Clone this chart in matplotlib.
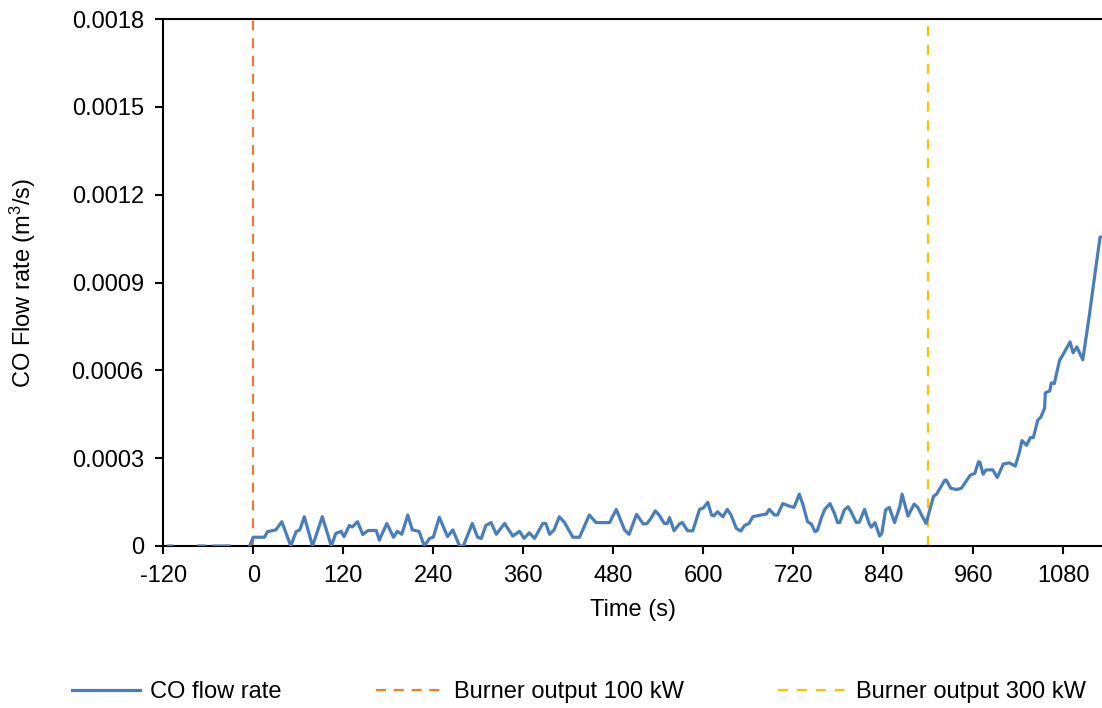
from matplotlib import pyplot as plt
from matplotlib.ticker import FuncFormatter
import numpy as np

plt.rcParams['font.family'] = ['Liberation Sans', 'DejaVu Sans']
plt.rcParams['axes.unicode_minus'] = False

# time (s) and CO flow rate (x 1e-5 m3/s), nan = gap in the record
time_s = [-113, -109, -100, -73, -65, -60, -53, -48, -46, -43, -32, -20,
          -5, 0, 15, 19, 30, 38, 50, 57, 62, 68, 79, 92, 104, 110, 117, 121,
          128, 132, 139, 146, 153, 164, 168, 178, 187, 192, 198, 206, 212,
          221, 228, 235, 240, 248, 259, 266, 275, 280, 292, 299, 304, 310,
          317, 324, 335, 346, 355, 361, 368, 375, 386, 390, 395, 401, 408,
          415, 426, 435, 448, 457, 475, 484, 495, 501, 511, 520, 525, 530,
          536, 541, 548, 552, 555, 561, 568, 572, 579, 586, 595, 600, 606,
          611, 614, 619, 626, 632, 637, 644, 650, 655, 661, 666, 677, 684,
          688, 695, 699, 706, 715, 721, 728, 733, 739, 744, 749, 752, 758,
          762, 769, 775, 779, 782, 788, 793, 797, 804, 808, 815, 821, 824,
          829, 835, 838, 843, 848, 855, 862, 865, 873, 881, 886, 891, 897,
          907, 911, 922, 924, 930, 938, 944, 956, 962, 967, 969, 973, 977,
          986, 992, 1000, 1008, 1016, 1021, 1025, 1031, 1036, 1040, 1046,
          1050, 1055, 1056, 1062, 1064, 1068, 1075, 1079, 1089, 1093, 1098,
          1106, 1115, 1121, 1129, 1132]
co_flow = [0, 0, np.nan, 0, 0, np.nan, 0, 0, np.nan, 0, 0, np.nan,
           0, 3.0, 3.0, 4.9, 5.5, 8.3, 0, 4.9, 5.5, 10.0, 0, 10.0, 0, 4.3,
           5.0, 3.2, 7.0, 6.5, 8.3, 3.9, 5.3, 5.3, 2.0, 7.7, 3.0, 5.0, 4.0,
           10.6, 5.5, 5.0, 0, 2.6, 3.0, 9.8, 3.2, 5.5, 0, 0, 7.7, 3.0, 2.6,
           7.0, 8.0, 4.0, 7.7, 3.4, 5.0, 2.6, 4.5, 2.6, 7.7, 7.7, 4.0, 5.5,
           10.0, 8.0, 3.0, 3.0, 10.6, 8.0, 8.0, 12.5, 5.5, 4.0, 10.8, 7.5,
           7.7, 9.4, 12.0, 10.6, 7.7, 7.7, 9.7, 5.2, 7.5, 8.0, 5.2, 5.2,
           12.5, 13.0, 14.9, 10.6, 10.3, 11.7, 10.0, 12.5, 10.6, 6.0, 5.1,
           7.0, 7.7, 10.0, 10.6, 10.9, 12.5, 10.6, 10.6, 14.5, 13.6, 13.2,
           17.7, 14.0, 8.3, 7.5, 4.9, 5.3, 10.0, 12.5, 14.5, 11.0, 8.0, 8.0,
           12.3, 13.4, 11.7, 8.0, 8.2, 12.5, 7.7, 6.4, 8.0, 3.4, 4.3, 12.3,
           13.2, 8.0, 13.4, 17.7, 10.2, 14.3, 13.2, 10.6, 7.7, 17.0, 17.7,
           22.5, 22.5, 19.7, 19.3, 19.7, 24.2, 24.8, 28.8, 28.5, 24.5, 26.0,
           26.0, 23.4, 28.0, 28.4, 27.3, 31.6, 36.0, 34.4, 37.0, 37.0, 43.0,
           44.0, 47.0, 52.3, 53.0, 55.7, 55.5, 63.4, 65.1, 69.7, 66.0, 68.0,
           63.6, 79.3, 90.7, 105.5, 105.5]

burner_100_t = 0
burner_300_t = 900

x_ticks = list(range(-120, 1081, 120))
y_ticks = [0, 0.0003, 0.0006, 0.0009, 0.0012, 0.0015, 0.0018]

fig = plt.figure(figsize=(11.02, 7.08), dpi=100)
ax = fig.add_axes([163.3 / 1102, (708 - 546) / 708, 1 - 163.3 / 1102, (546 - 19) / 708])

fs = 17
ax.plot(time_s, np.array(co_flow) * 1e-5, color='#4a7ebb', lw=2.3, label='CO flow rate', zorder=3)
ax.axvline(burner_100_t, color='#ed7d31', lw=1.6, dashes=(4.5, 3.5), label='Burner output 100 kW')
ax.axvline(burner_300_t, color='#ffc000', lw=1.6, dashes=(4.5, 4), label='Burner output 300 kW')

ax.set_xlim(-120, 1131.6)
ax.set_ylim(0, 0.0018)
ax.set_xticks(x_ticks)
ax.set_yticks(y_ticks)
ax.yaxis.set_major_formatter(FuncFormatter(lambda v, p: '0' if v == 0 else '%.4f' % v))

for s in ['left', 'bottom', 'top']:
    ax.spines[s].set_linewidth(1.5)
    ax.spines[s].set_color('black')
ax.spines['right'].set_visible(False)
ax.tick_params(direction='out', length=5.5, width=1.5, labelsize=fs, pad=8.5)

ax.set_xlabel('Time (s)', fontsize=fs)
ax.set_ylabel('CO Flow rate (m$\\mathregular{^3}$/s)', fontsize=fs)
ax.xaxis.set_label_coords(0.5, -0.1)
ax.yaxis.set_label_coords(-0.134, 0.5)

fig.legend(loc='center left', bbox_to_anchor=(72 / 1102, (708 - 692) / 708), ncol=3,
           frameon=False, fontsize=fs, handlelength=2.9, handletextpad=0.4,
           columnspacing=4.0, borderpad=0, borderaxespad=0)

fig.savefig('out.png', dpi=100)
